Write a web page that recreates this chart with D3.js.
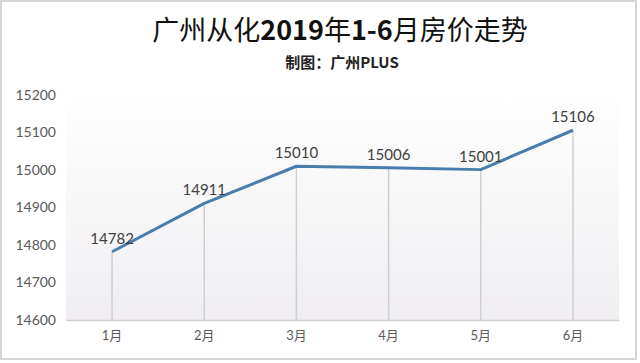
<!DOCTYPE html>
<html>
<head>
<meta charset="utf-8">
<script src="https://cdn.jsdelivr.net/npm/d3@7"></script>
<style>
  body { margin: 0; background: #fff; }
  svg { display: block; }
</style>
</head>
<body>
<svg></svg>
<script>
// data
var months = ["1月", "2月", "3月", "4月", "5月", "6月"];
var prices = [14782, 14911, 15010, 15006, 15001, 15106];
var yTicks = [14600, 14700, 14800, 14900, 15000, 15100, 15200];

var screen = {width: 640, height: 363};
var plot = {left: 66, right: 619, top: 85, bottom: 320};

var svg = d3.select("svg")
            .attr("width", screen.width)
            .attr("height", screen.height);

// outer frame
svg.append("rect")
   .attr("x", 1).attr("y", 1)
   .attr("width", 635).attr("height", 358)
   .attr("fill", "#fff")
   .attr("stroke", "#d4d4d4")
   .attr("stroke-width", 2);

var defs = svg.append("defs");
var grad = defs.append("linearGradient")
               .attr("id", "bg")
               .attr("x1", 0).attr("y1", 0)
               .attr("x2", 0).attr("y2", 1);
grad.append("stop").attr("offset", "0%").attr("stop-color", "#ffffff");
grad.append("stop").attr("offset", "100%").attr("stop-color", "#f0eef1");

svg.append("rect")
   .attr("x", plot.left).attr("y", plot.top)
   .attr("width", plot.right - plot.left)
   .attr("height", plot.bottom - plot.top)
   .attr("fill", "url(#bg)");

var xScale = d3.scaleBand()
               .domain(months)
               .range([plot.left, plot.right]);
var yScale = d3.scaleLinear()
               .domain([14600, 15200])
               .range([plot.bottom, 95]);

var font = "Lato, 'Noto Sans CJK SC', sans-serif";
var cx = function(d, i) { return xScale(months[i]) + xScale.bandwidth() / 2; };

// title
var title = svg.append("text")
   .attr("x", 340).attr("y", 40)
   .attr("text-anchor", "middle")
   .attr("font-family", "'Noto Sans CJK SC', sans-serif")
   .attr("font-size", 27)
   .attr("fill", "#111");
[["广州从化", 400], ["2019", 700], ["年", 400], ["1-6", 700], ["月房价走势", 400]]
  .forEach(function(p) {
    title.append("tspan").attr("font-weight", p[1]).text(p[0]);
  });

svg.append("text")
   .attr("x", 342).attr("y", 68)
   .attr("text-anchor", "middle")
   .attr("font-family", "'Noto Sans CJK SC', sans-serif")
   .attr("font-weight", 700)
   .attr("font-size", 15)
   .attr("fill", "#222")
   .text("制图：广州PLUS");

// y axis labels (no line)
var yAxis = d3.axisLeft(yScale)
              .tickValues(yTicks)
              .tickSize(0)
              .tickPadding(10)
              .tickFormat(d3.format("d"));
var yg = svg.append("g")
            .attr("transform", "translate(" + plot.left + ",0)")
            .call(yAxis);
yg.select(".domain").remove();
yg.selectAll("text")
  .attr("font-family", font)
  .attr("font-size", 14)
  .attr("fill", "#595959");

// x axis
var xAxis = d3.axisBottom(xScale).tickSize(0).tickPadding(11);
var xg = svg.append("g")
            .attr("transform", "translate(0," + plot.bottom + ")")
            .call(xAxis);
xg.select(".domain")
  .attr("stroke", "#d0d0d0")
  .attr("stroke-width", 1.5);
xg.selectAll("text")
  .attr("font-family", font)
  .attr("font-size", 13)
  .attr("fill", "#595959");

// drop lines
svg.append("g")
   .selectAll("line")
   .data(prices)
   .enter()
   .append("line")
   .attr("x1", cx).attr("x2", cx)
   .attr("y1", function(d) { return yScale(d); })
   .attr("y2", plot.bottom)
   .attr("stroke", "#cfcfcf")
   .attr("stroke-width", 1.5);

// price line
var line = d3.line()
             .x(cx)
             .y(function(d) { return yScale(d); });
svg.append("path")
   .datum(prices)
   .attr("d", line)
   .attr("fill", "none")
   .attr("stroke", "#4a7cac")
   .attr("stroke-width", 3)
   .attr("stroke-linejoin", "round");

// value labels
svg.append("g")
   .selectAll("text")
   .data(prices)
   .enter()
   .append("text")
   .attr("x", cx)
   .attr("y", function(d) { return yScale(d) - 8; })
   .attr("text-anchor", "middle")
   .attr("font-family", font)
   .attr("font-size", 15)
   .attr("fill", "#404040")
   .text(function(d) { return d; });
</script>
</body>
</html>
